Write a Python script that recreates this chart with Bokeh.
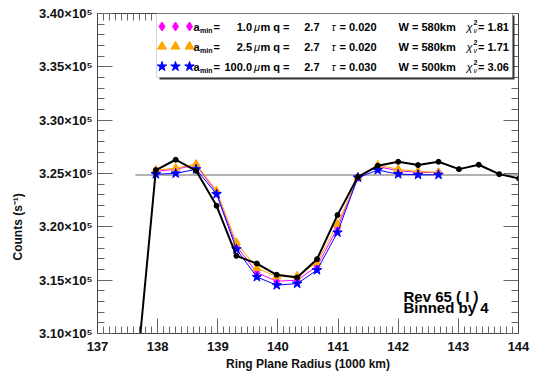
import math
from bokeh.plotting import figure
from bokeh.models import (SingleIntervalTicker, LinearAxis, CustomJSTickFormatter,
                          BoxAnnotation, Label, Range1d)
from bokeh.embed import file_html
from bokeh.resources import INLINE

# ---------------- data ----------------
radius_obs = [137.63, 137.97, 138.30, 138.64, 138.98, 139.31, 139.65, 139.98, 140.32,
              140.65, 140.99, 141.33, 141.66, 142.00, 142.33, 142.67, 143.01, 143.34,
              143.68, 144.01]
counts_obs = [3.050e5, 3.2532e5, 3.2629e5, 3.2525e5, 3.2197e5, 3.1728e5, 3.1656e5, 3.1550e5,
              3.1524e5, 3.1697e5, 3.2110e5, 3.2469e5, 3.2572e5, 3.2610e5, 3.2579e5, 3.2610e5,
              3.2541e5, 3.2582e5, 3.2494e5, 3.2453e5]

radius_model = [137.97, 138.30, 138.64, 138.98, 139.31, 139.65, 139.98, 140.32, 140.65,
                140.99, 141.33, 141.66, 142.00, 142.33, 142.67]
counts_a1 = [3.2520e5, 3.2540e5, 3.2580e5, 3.2320e5, 3.1820e5, 3.1570e5, 3.1490e5, 3.1500e5,
             3.1630e5, 3.1990e5, 3.2465e5, 3.2565e5, 3.2525e5, 3.2510e5, 3.2510e5]
counts_a25 = [3.2532e5, 3.2550e5, 3.2588e5, 3.2338e5, 3.1853e5, 3.1613e5, 3.1534e5, 3.1540e5,
              3.1665e5, 3.2025e5, 3.2462e5, 3.2579e5, 3.2540e5, 3.2519e5, 3.2510e5]
counts_a100 = [3.2494e5, 3.2500e5, 3.2540e5, 3.2307e5, 3.1790e5, 3.1530e5, 3.1453e5, 3.1468e5,
               3.1594e5, 3.1947e5, 3.2462e5, 3.2532e5, 3.2494e5, 3.2488e5, 3.2488e5]

baseline_x = [137.63, 144.2]
baseline_y = [3.2485e5, 3.2485e5]

legend_amin = ["1.0", "2.5", "100.0"]
legend_q = ["2.7", "2.7", "2.7"]
legend_tau = ["0.020", "0.020", "0.030"]
legend_W = ["580km", "580km", "500km"]
legend_chi2 = ["1.81", "1.71", "3.06"]
legend_colors = ["#ff00ff", "#ffa500", "#0000ff"]
legend_markers = ["diamond", "triangle", "star"]

x_ticks_interval = 1
y_ticks_interval = 5000

# ---------------- layout ----------------
W, H = 533, 375
FL, FR, FT, FB = 97, 518, 13, 333
X0, X1 = 137.0, 144.0
Y0, Y1 = 3.10e5, 3.40e5

def dx(px):
    return X0 + (px - FL) * (X1 - X0) / (FR - FL)

def dy(py):
    return Y1 - (py - FT) * (Y1 - Y0) / (FB - FT)

FONT = "Liberation Sans"

p = figure(width=W, height=H, output_backend="svg", toolbar_location=None,
           x_range=Range1d(X0, X1), y_range=Range1d(Y0, Y1),
           min_border_left=FL, min_border_right=W - FR, min_border_top=FT,
           min_border_bottom=H - FB, x_axis_location=None, y_axis_location=None)
p.grid.visible = False
p.outline_line_color = "#444444"
p.outline_line_width = 1
p.background_fill_color = "white"
p.border_fill_color = "white"

xt = SingleIntervalTicker(interval=x_ticks_interval, num_minor_ticks=10)
yt = SingleIntervalTicker(interval=y_ticks_interval, num_minor_ticks=5)

def style_axis(ax, show_labels):
    ax.axis_line_color = "#444444"
    ax.major_tick_line_color = "#666666"
    ax.minor_tick_line_color = "#666666"
    ax.major_tick_in = 15
    ax.major_tick_out = 0
    ax.minor_tick_in = 7
    ax.minor_tick_out = 0
    if show_labels:
        ax.major_label_text_font = FONT
        ax.major_label_text_font_style = "bold"
        ax.major_label_text_font_size = "13px"
        ax.major_label_text_color = "#111111"
    else:
        ax.major_label_text_alpha = 0
        ax.major_label_text_font_size = "1px"
        ax.major_label_standoff = 0

xb = LinearAxis(ticker=xt)
style_axis(xb, True)
xb.major_label_standoff = 8
xb.axis_label = "Ring Plane Radius (1000 km)"
xb.axis_label_text_font = FONT
xb.axis_label_text_font_style = "bold"
xb.axis_label_text_font_size = "12px"
xb.axis_label_standoff = 3
xb.axis_label_text_color = "#111111"
p.add_layout(xb, "below")

yl = LinearAxis(ticker=yt, formatter=CustomJSTickFormatter(
    code="return (tick/1e5).toFixed(2) + '\u00d710\u2075';"))
style_axis(yl, True)
yl.major_label_standoff = 5
# trailing no-break spaces push the centred title down, as in the reference
yl.axis_label = "Counts (s\u207b\u00b9)" + "\u00a0" * 32
yl.axis_label_text_font = FONT
yl.axis_label_text_font_style = "bold"
yl.axis_label_text_font_size = "12px"
yl.axis_label_standoff = 11
yl.axis_label_text_color = "#111111"
p.add_layout(yl, "left")

xa = LinearAxis(ticker=xt)
style_axis(xa, False)
p.add_layout(xa, "above")

yr = LinearAxis(ticker=yt)
style_axis(yr, False)
p.add_layout(yr, "right")

# ---------------- data marks ----------------
p.segment(x0=[baseline_x[0]], x1=[baseline_x[1]], y0=[baseline_y[0]], y1=[baseline_y[1]],
          line_color="#999999", line_width=1.5)

series = [(counts_a1, "#ff00ff", "diamond", 9),
          (counts_a25, "#ffa500", "triangle", 8),
          (counts_a100, "#0000ff", "star", 10)]
for ys, col, mk, sz in series:
    p.line(radius_model, ys, line_color=col, line_width=1)
    p.scatter(radius_model, ys, marker=mk, size=sz, fill_color=col, line_color=col)

p.line(radius_obs, counts_obs, line_color="black", line_width=2)
p.scatter(radius_obs, counts_obs, marker="circle", size=5, fill_color="black", line_color="black")

# ---------------- legend box ----------------
shadow = BoxAnnotation(left=dx(159), right=dx(514), top=dy(15), bottom=dy(79),
                       fill_color="#333333", fill_alpha=1, line_alpha=0, level="annotation")
box = BoxAnnotation(left=dx(156), right=dx(512), top=dy(13), bottom=dy(77),
                    fill_color="white", fill_alpha=1, line_color="#777777", line_width=1,
                    level="annotation")
p.add_layout(shadow)
p.add_layout(box)

row_y = [26, 46, 66]
marker_x = [161.5, 175, 189]

def lab(px, py, text, size=11, align="left", style="bold", baseline="middle"):
    l = Label(x=dx(px), y=dy(py), text=text, text_font=FONT, text_font_style=style,
              text_font_size=f"{size}px", text_align=align, text_baseline=baseline,
              text_color="black", level="overlay")
    p.add_layout(l)

for i in range(3):
    ry = row_y[i]
    r = p.scatter([dx(mx) for mx in marker_x], [dy(ry)] * 3, marker=legend_markers[i],
                  size=9 if i < 2 else 10, fill_color=legend_colors[i],
                  line_color=legend_colors[i])
    r.level = "overlay"
    lab(193, ry, "a")
    lab(199.5, ry + 3.5, "min", size=7)
    lab(213, ry, "=")
    lab(251.5, ry, legend_amin[i], align="right")
    lab(253.5, ry, "\u03bc", style="italic")
    lab(260, ry, "m q =")
    lab(319, ry, legend_q[i], align="right")
    lab(331, ry, "\u03c4", style="italic", size=11)
    lab(339, ry, "= " + legend_tau[i])
    lab(398, ry, "W = " + legend_W[i])
    lab(466, ry, "\u03c7", style="italic", size=11)
    lab(473, ry - 4.5, "2", size=7)
    lab(473, ry + 3.5, "\u03bd", size=7, style="italic")
    lab(477.5, ry, "= " + legend_chi2[i])

# ---------------- annotations ----------------
lab(403, 296, "Rev 65 ( I )", size=15)
lab(403, 307, "Binned by 4", size=15)

open("out.html", "w").write(file_html(p, INLINE))
